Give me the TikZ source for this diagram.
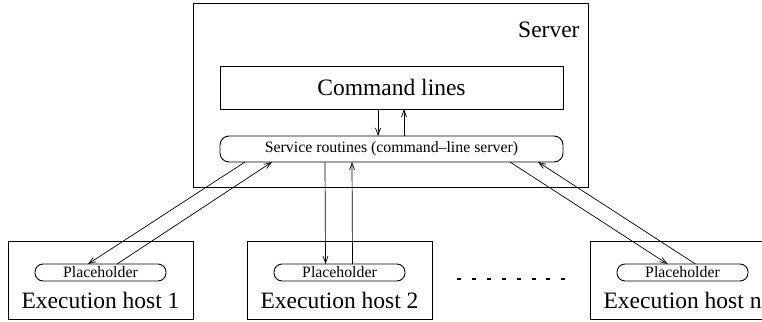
\documentclass[tikz,border=0pt]{standalone}
\usepackage{fontspec}
\setmainfont{Liberation Serif}
\usetikzlibrary{arrows.meta,positioning}

\begin{document}
\begin{tikzpicture}[x=1pt, y=-1pt, node distance=1cm, line width=0.9pt]
          \tikzset{
              bigbox/.style={rectangle, draw=black, inner sep=0pt, outer sep=0pt},
              roundbox/.style={rectangle, rounded corners=8pt, draw=black, inner sep=0pt, outer sep=0pt, text centered, font=\fontsize{15.8}{19}\selectfont},
              bigtext/.style={inner sep=0pt, font=\fontsize{23.5}{28}\selectfont},
              hostbox/.style={bigbox, minimum width=185pt, minimum height=78pt},
              holder/.style={roundbox, minimum width=131pt, minimum height=17pt},
              myarrow/.style={-{Straight Barb[length=7pt, width=5pt]}, line width=0.7pt},
              dotline/.style={line width=2.5pt, dash pattern=on 4pt off 10.9pt}
          }
          \useasboundingbox (0,0) rectangle (762,321);
          % server side
          \node[bigbox, minimum width=395pt, minimum height=184pt] (server) at (390.5,95) {};
          \node[bigtext, anchor=east] (server-label) at ([xshift=-8pt, yshift=-27pt]server.north east) {Server};
          \node[bigbox, minimum width=343pt, minimum height=43pt, bigtext] (command-lines) at (391.5,87.5) {Command lines};
          \node[roundbox, minimum width=343pt, minimum height=26pt, rounded corners=9pt] (service) at (391.5,149) {Service routines (command--line server)};

          % execution hosts
          \node[hostbox] (host-1) at (100.5,280) {};
          \node[hostbox, right=54pt of host-1] (host-2) {};
          \node[hostbox, right=158pt of host-2] (host-n) {};
          \node[holder] (holder-1) at ([yshift=-31.5pt]host-1.north) {Placeholder};
          \node[holder] (holder-2) at ([yshift=-31.5pt]host-2.north) {Placeholder};
          \node[holder] (holder-n) at ([yshift=-31.5pt]host-n.north) {Placeholder};
          \node[bigtext] (label-1) at ([yshift=19pt]host-1.south) {Execution host 1};
          \node[bigtext] (label-2) at ([yshift=19pt]host-2.south) {Execution host 2};
          \node[bigtext] (label-n) at ([yshift=19pt]host-n.south) {Execution host n};

          \coordinate (dots-start) at (457,279);
          \coordinate (dots-end) at (567,279);
          \draw[dotline] (dots-start) -- (dots-end);

          \draw[myarrow] ([xshift=-13.5pt]command-lines.south) -- ([xshift=-13.5pt]service.north);
          \draw[myarrow] ([xshift=12.5pt]service.north) -- ([xshift=12.5pt]command-lines.south);

          \draw[myarrow] ([xshift=-146.5pt]service.south) -- ([xshift=-12.5pt]holder-1.north);
          \draw[myarrow] ([xshift=16.5pt]holder-1.north) -- ([xshift=-119.5pt]service.south);
          \draw[myarrow] ([xshift=-66.5pt]service.south) -- ([xshift=-14pt]holder-2.north);
          \draw[myarrow] ([xshift=13pt]holder-2.north) -- ([xshift=-39.5pt]service.south);
          \draw[myarrow] ([xshift=118.5pt]service.south) -- ([xshift=-15pt]holder-n.north);
          \draw[myarrow] ([xshift=13pt]holder-n.north) -- ([xshift=146.5pt]service.south);
\end{tikzpicture}
\end{document}
